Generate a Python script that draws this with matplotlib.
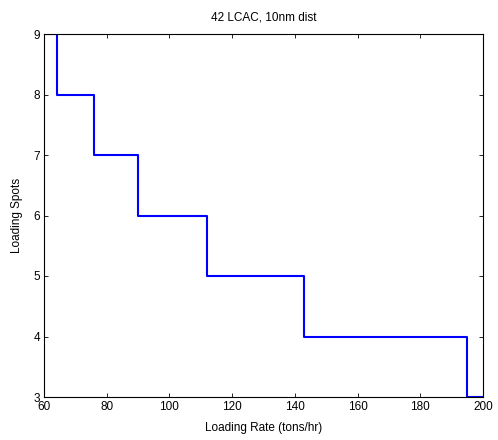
import matplotlib
matplotlib.use("Agg")
import matplotlib.pyplot as plt

rates = [60, 64, 76, 90, 112, 143, 195, 200]
spots = [9, 8, 7, 6, 5, 4, 3, 3]
xticks = [60, 80, 100, 120, 140, 160, 180, 200]
yticks = [3, 4, 5, 6, 7, 8, 9]

plt.rcParams['font.family'] = ['Liberation Sans', 'DejaVu Sans']
fig = plt.figure(figsize=(4.98, 4.40), dpi=100)
ax = fig.add_axes([44/498, 1 - 397/440, (483-44)/498, (397-34)/440])
ax.plot(rates, spots, drawstyle='steps-post', color='#0000ff', linewidth=1.5)
ax.set_xlim(60, 200)
ax.set_ylim(3, 9)
ax.set_xticks(xticks)
ax.set_yticks(yticks)
ax.tick_params(direction='in', top=True, right=True, labelsize=8.5, length=3, width=0.6, pad=3)
for s in ax.spines.values():
    s.set_linewidth(0.8)
ax.set_xlabel('Loading Rate (tons/hr)', fontsize=8.5, labelpad=6)
ax.set_ylabel('Loading Spots', fontsize=8.5, labelpad=7)
ax.set_title('42 LCAC, 10nm dist', fontsize=8.5, pad=10)
fig.savefig('out.png', dpi=100)
